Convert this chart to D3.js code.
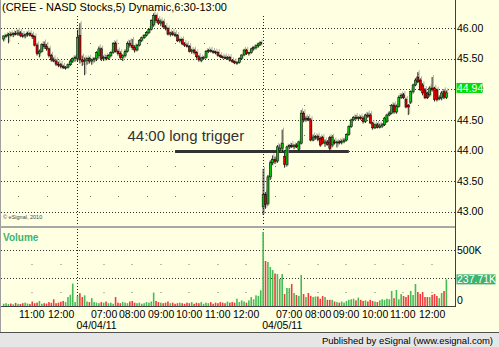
<!DOCTYPE html>
<html>
<head>
<meta charset="utf-8">
<script src="https://cdn.jsdelivr.net/npm/d3@7"></script>
<style>
body { margin: 0; background: #fff; }
svg { display: block; font-family: "Liberation Sans", Arial, sans-serif; }
</style>
</head>
<body>
<svg width="499" height="347"></svg>
<script>
const width = 499;
const height = 347;
const svg = d3.select('svg');

// sessions: 5 minute bars, 6:30-13:00
const dayLabels = ['', '04/04/11', '04/05/11'];
const dayStarts = ['10:25', '06:30', '06:30'];
const dayBarCounts = [31, 78, 78];

const opens = [
  45.82,45.87,45.88,45.90,45.89,45.91,45.90,45.92,45.88,45.87,45.89,45.91,45.88,45.86,45.72,45.58,45.62,45.73,45.70,45.66,45.55,45.48,45.46,45.41,45.40,45.37,45.35,45.36,45.40,45.46,45.50,
  45.50,45.88,45.48,45.45,45.47,45.50,45.46,45.48,45.50,45.55,45.66,45.50,45.52,45.50,45.55,45.60,45.75,45.62,45.58,45.52,45.55,45.62,45.75,45.72,45.68,45.64,45.72,45.80,45.84,45.88,45.93,45.98,46.05,46.20,46.12,46.08,46.10,46.02,45.99,45.90,45.92,45.89,45.88,45.79,45.81,45.74,45.72,45.70,45.62,45.64,45.60,45.53,45.47,45.51,45.52,45.62,45.63,45.62,45.61,45.60,45.55,45.53,45.52,45.51,45.52,45.47,45.45,45.43,45.44,45.50,45.56,45.64,45.58,45.60,45.66,45.68,45.71,45.74,
  43.08,43.28,43.14,43.57,43.80,43.85,43.83,44.00,44.04,43.90,43.77,44.06,44.08,44.06,44.09,44.02,44.12,44.61,44.50,44.52,44.50,44.17,44.22,44.23,44.20,44.21,44.12,44.14,44.21,44.09,44.14,44.13,44.14,44.13,44.15,44.17,44.26,44.39,44.50,44.54,44.53,44.54,44.53,44.47,44.58,44.58,44.45,44.37,44.42,44.38,44.40,44.42,44.47,44.58,44.61,44.74,44.63,44.72,44.87,44.91,44.83,44.74,44.79,44.96,45.07,45.20,45.15,45.07,44.99,44.94,44.91,45.02,45.02,44.99,44.85,44.86,44.96,44.87
];
const highs = [
  45.88,45.90,45.92,45.93,45.93,45.95,45.97,45.95,45.92,45.91,45.94,45.93,45.91,45.88,45.75,45.65,45.75,45.78,45.74,45.68,45.58,45.52,45.49,45.45,45.43,45.40,45.38,45.42,45.48,45.52,45.55,
  45.97,46.08,45.55,45.52,45.52,45.53,45.50,45.52,45.62,45.70,45.68,45.55,45.56,45.57,45.62,45.77,45.78,45.65,45.62,45.57,45.65,45.78,45.80,45.82,45.72,45.74,45.82,45.86,45.90,45.95,46.00,46.14,46.24,46.22,46.16,46.14,46.12,46.05,46.01,45.94,45.95,45.93,45.90,45.83,45.83,45.77,45.75,45.72,45.66,45.66,45.62,45.56,45.53,45.54,45.64,45.66,45.66,45.64,45.63,45.62,45.57,45.55,45.55,45.54,45.54,45.49,45.47,45.46,45.52,45.57,45.66,45.66,45.61,45.68,45.70,45.73,45.76,45.78,
  43.70,43.32,43.60,43.84,43.92,43.90,44.09,44.10,44.34,43.96,44.08,44.10,44.12,44.10,44.12,44.16,44.66,44.64,44.56,44.56,44.53,44.26,44.25,44.26,44.23,44.24,44.18,44.17,44.24,44.24,44.18,44.16,44.17,44.18,44.20,44.28,44.41,44.52,44.56,44.58,44.56,44.57,44.56,44.60,44.62,44.61,44.47,44.44,44.45,44.44,44.45,44.55,44.60,44.64,44.76,44.77,44.75,44.90,44.93,44.94,44.86,44.76,44.98,45.09,45.18,45.28,45.18,45.10,45.02,44.96,45.05,45.20,45.04,45.01,44.90,44.97,45.00,44.98
];
const lows = [
  45.78,45.84,45.75,45.86,45.85,45.88,45.87,45.85,45.84,45.83,45.86,45.86,45.82,45.70,45.55,45.52,45.60,45.66,45.63,45.52,45.45,45.44,45.38,45.36,45.34,45.33,45.32,45.34,45.38,45.43,45.45,
  45.45,45.42,45.38,45.23,45.40,45.42,45.40,45.44,45.46,45.50,45.46,45.46,45.47,45.48,45.52,45.58,45.60,45.55,45.48,45.46,45.52,45.60,45.68,45.64,45.60,45.62,45.70,45.77,45.82,45.86,45.90,45.96,46.02,46.08,46.05,46.03,46.00,45.96,45.88,45.86,45.87,45.85,45.77,45.76,45.72,45.69,45.68,45.60,45.58,45.57,45.50,45.45,45.44,45.48,45.50,45.59,45.60,45.58,45.57,45.53,45.51,45.50,45.49,45.48,45.45,45.43,45.41,45.40,45.42,45.48,45.54,45.56,45.55,45.58,45.63,45.65,45.68,45.71,
  42.95,43.05,43.10,43.52,43.76,43.78,43.80,43.96,43.98,43.72,43.74,44.02,44.04,44.02,44.04,44.00,44.10,44.46,44.47,44.48,44.15,44.15,44.18,44.15,44.06,44.10,44.06,44.08,43.99,44.05,44.10,44.05,44.10,44.10,44.12,44.15,44.24,44.37,44.48,44.50,44.49,44.50,44.44,44.45,44.53,44.43,44.34,44.35,44.36,44.36,44.37,44.40,44.45,44.56,44.59,44.60,44.60,44.70,44.84,44.84,44.69,44.58,44.76,44.93,45.05,45.10,44.97,44.90,44.84,44.84,44.88,44.96,44.80,44.80,44.82,44.82,44.84,44.84
];
const closes = [
  45.87,45.88,45.90,45.89,45.91,45.90,45.92,45.88,45.87,45.89,45.91,45.88,45.86,45.72,45.58,45.62,45.73,45.70,45.66,45.55,45.48,45.46,45.41,45.40,45.37,45.35,45.36,45.40,45.46,45.50,45.52,
  45.85,45.48,45.45,45.47,45.50,45.46,45.48,45.50,45.60,45.66,45.50,45.52,45.50,45.55,45.60,45.75,45.62,45.58,45.52,45.55,45.62,45.75,45.72,45.68,45.64,45.72,45.80,45.84,45.88,45.93,45.98,46.12,46.20,46.12,46.08,46.10,46.02,45.99,45.90,45.92,45.89,45.88,45.79,45.81,45.74,45.72,45.70,45.62,45.64,45.60,45.53,45.48,45.51,45.52,45.62,45.63,45.62,45.61,45.60,45.55,45.53,45.52,45.51,45.52,45.47,45.45,45.43,45.44,45.50,45.56,45.64,45.58,45.60,45.66,45.68,45.71,45.74,45.76,
  43.28,43.12,43.57,43.80,43.85,43.82,44.06,44.04,44.12,43.77,44.06,44.08,44.06,44.09,44.06,44.14,44.61,44.50,44.52,44.50,44.17,44.22,44.23,44.18,44.09,44.12,44.14,44.10,44.03,44.22,44.13,44.14,44.13,44.15,44.17,44.26,44.39,44.50,44.54,44.53,44.54,44.52,44.47,44.58,44.56,44.45,44.37,44.42,44.38,44.40,44.42,44.53,44.58,44.61,44.74,44.63,44.72,44.87,44.90,44.86,44.71,44.71,44.96,45.07,45.15,45.12,44.99,44.94,44.86,44.86,45.02,44.99,44.83,44.83,44.86,44.94,44.87,44.94
];
// volume, thousands of shares
const volumes = [
  20,25,18,22,15,28,20,18,25,30,22,18,40,25,30,45,20,25,22,35,28,60,25,30,38,45,35,80,100,200,35,
  90,115,80,95,40,35,70,35,30,25,35,30,40,25,30,20,80,30,25,35,30,25,40,45,30,25,30,20,25,35,30,40,120,45,35,30,25,30,40,25,30,20,25,30,25,20,30,25,35,20,30,25,35,20,30,25,35,20,30,25,35,30,25,40,30,35,30,65,35,50,40,30,50,80,60,95,90,140,
  660,402,393,348,321,290,285,241,285,107,161,160,196,116,98,90,277,107,80,116,90,80,85,85,65,89,80,55,55,55,40,35,30,40,30,45,55,60,65,50,75,55,45,50,40,55,45,40,35,50,60,55,65,60,134,70,143,60,107,89,80,98,134,98,196,125,107,125,80,80,80,100,107,89,70,116,134,237.71
];

const priceTicks = [43, 43.5, 44, 44.5, 45, 45.5, 46];
const priceDots = [43.25, 43.75, 44.25, 44.75, 45.25, 45.75];
const volTicks = [0, 500];
const volGrid = [250, 500];
const volDots = [125, 375];
const lastPriceLabel = '44.94';
const lastVolumeLabel = '237.71K';
const triggerPrice = 44.00;
const triggerText = '44:00 long trigger';
const triggerFrom = 72;   // bar index
const triggerTo = 145;
const title = '(CREE - NASD Stocks,5) Dynamic,6:30-13:00';

const bars = [];
dayBarCounts.forEach((n, d) => {
  const [h, m] = dayStarts[d].split(':').map(Number);
  for (let i = 0; i < n; i++) {
    bars.push({ day: d, first: i === 0, mins: h * 60 + m + i * 5 });
  }
});
bars.forEach((b, i) => {
  b.o = opens[i]; b.h = highs[i]; b.l = lows[i]; b.c = closes[i]; b.v = volumes[i];
  b.up = b.c >= b.o;
});

const x = d3.scaleLinear().domain([0, bars.length - 1]).range([3.7, 446.4]);
const step = x(1) - x(0);
const y = d3.scaleLinear().domain([43, 46]).range([211.8, 28]);
const yv = d3.scaleLinear().domain([0, 500]).range([306, 250]);

const plotRight = 455;
const bg = '#ffffe1';

svg.append('rect').attr('width', width).attr('height', height).attr('fill', bg);

const hourIdx = bars.map((b, i) => i).filter(i => bars[i].mins % 60 === 0);
const dayIdx = bars.map((b, i) => i).filter(i => bars[i].first && bars[i].day > 0);
const tickX = i => Math.round(x(i) - step / 2) - 0.5;

// grid, price panel
const grid = svg.append('g');
grid.selectAll('.hg').data(priceTicks).join('line')
  .attr('x1', 1).attr('x2', plotRight)
  .attr('y1', d => Math.round(y(d)) + 0.5).attr('y2', d => Math.round(y(d)) + 0.5)
  .attr('stroke', '#333').attr('stroke-dasharray', '1,2');
priceDots.forEach(p => {
  grid.selectAll(null).data(hourIdx).join('rect')
    .attr('x', i => tickX(i) - 0.5).attr('y', Math.round(y(p)))
    .attr('width', 1).attr('height', 1).attr('fill', '#777');
});
// grid, volume panel
grid.selectAll('.vg').data(volGrid).join('line')
  .attr('x1', 1).attr('x2', plotRight)
  .attr('y1', d => Math.round(yv(d)) + 0.5).attr('y2', d => Math.round(yv(d)) + 0.5)
  .attr('stroke', '#333').attr('stroke-dasharray', '1,2');
volDots.forEach(v => {
  grid.selectAll(null).data(hourIdx).join('rect')
    .attr('x', i => tickX(i) + 13).attr('y', Math.round(yv(v)))
    .attr('width', 1).attr('height', 1).attr('fill', '#777');
});
dayIdx.forEach(i => {
  const dx = Math.round(x(i)) + 0.5;
  grid.append('line').attr('x1', dx).attr('x2', dx).attr('y1', 16).attr('y2', 226)
    .attr('stroke', '#222').attr('stroke-dasharray', '1,2');
  grid.append('line').attr('x1', dx).attr('x2', dx).attr('y1', 229).attr('y2', 306)
    .attr('stroke', '#222').attr('stroke-dasharray', '1,2');
});

// trigger annotation
svg.append('line')
  .attr('x1', x(triggerFrom)).attr('x2', x(triggerTo))
  .attr('y1', y(triggerPrice) + 1).attr('y2', y(triggerPrice) + 1)
  .attr('stroke', '#333').attr('stroke-width', 3);
svg.append('text').text(triggerText)
  .attr('x', x(52)).attr('y', 141)
  .attr('font-size', 15).attr('fill', '#333');

// candles
const cg = svg.append('g');
cg.selectAll('.sh').data(bars).join('line')
  .attr('x1', (d, i) => x(i) + 1.3).attr('x2', (d, i) => x(i) + 1.3)
  .attr('y1', d => y(d.h) - 2).attr('y2', d => y(d.l) - 1)
  .attr('stroke', '#b0b0a4').attr('stroke-width', 1);
cg.selectAll('.wk').data(bars).join('line')
  .attr('x1', (d, i) => x(i)).attr('x2', (d, i) => x(i))
  .attr('y1', d => y(d.h)).attr('y2', d => y(d.l))
  .attr('stroke', '#111').attr('stroke-width', 0.9);
cg.selectAll('.bd').data(bars).join('rect')
  .attr('x', (d, i) => x(i) - 1).attr('width', 2)
  .attr('y', d => y(Math.max(d.o, d.c)))
  .attr('height', d => Math.max(1, Math.abs(y(d.o) - y(d.c))))
  .attr('fill', d => d.up ? '#10c010' : '#e00000')
  .attr('stroke', '#000').attr('stroke-width', 0.5);

// volume bars
svg.append('g').selectAll('rect').data(bars).join('rect')
  .attr('x', (d, i) => x(i) - 0.8).attr('width', 1.6)
  .attr('y', d => yv(d.v)).attr('height', d => yv(0) - yv(d.v))
  .attr('fill', d => d.up ? '#44bb55' : '#ee3c3c');

// frame
svg.append('line').attr('x1', 0.5).attr('x2', 0.5).attr('y1', 0).attr('y2', 332)
  .attr('stroke', '#a0a0a0');
svg.append('line').attr('x1', 0).attr('x2', plotRight).attr('y1', 227).attr('y2', 227)
  .attr('stroke', '#a8a8a8').attr('stroke-width', 2);
svg.append('line').attr('x1', plotRight + 0.5).attr('x2', plotRight + 0.5).attr('y1', 0).attr('y2', 307)
  .attr('stroke', '#404040');
svg.append('line').attr('x1', 1).attr('x2', plotRight + 1).attr('y1', 306.5).attr('y2', 306.5)
  .attr('stroke', '#404040');

// title and labels
svg.append('text').text(title).attr('x', 2).attr('y', 11)
  .attr('font-size', 11).attr('fill', '#000');
svg.append('text').text('\u00a9 eSignal, 2010').attr('x', 3).attr('y', 219)
  .attr('font-size', 5.5).attr('fill', '#444');
svg.append('text').text('Volume').attr('x', 3).attr('y', 241)
  .attr('font-size', 10).attr('font-weight', 'bold').attr('fill', '#3cb371');

// right axes
const ra = svg.append('g').attr('font-size', 10.5).attr('fill', '#000');
ra.selectAll('.pt').data(priceTicks).join('text')
  .text(d => d3.format('.2f')(d))
  .attr('x', plotRight + 2).attr('y', d => y(d)).attr('dy', '0.35em');
ra.selectAll('.vt').data(volTicks).join('text')
  .text(d => d === 0 ? '0' : d + 'K')
  .attr('x', plotRight + 2).attr('y', d => d === 0 ? yv(d) - 6 : yv(d)).attr('dy', '0.35em');

const py = y(closes[closes.length - 1]) - 5;
svg.append('rect').attr('x', plotRight + 1.5).attr('y', py - 5).attr('width', 26).attr('height', 10)
  .attr('fill', '#00e000');
svg.append('text').text(lastPriceLabel).attr('x', plotRight + 2).attr('y', py).attr('dy', '0.35em')
  .attr('font-size', 10.5).attr('fill', '#fff');
const vy = yv(volumes[volumes.length - 1]);
svg.append('rect').attr('x', plotRight + 1.5).attr('y', vy - 5).attr('width', 39).attr('height', 10)
  .attr('fill', '#3cb371');
svg.append('text').text(lastVolumeLabel).attr('x', plotRight + 2).attr('y', vy).attr('dy', '0.35em')
  .attr('font-size', 10.5).attr('fill', '#fff');

// x axis labels
const fmt = m => String(Math.floor(m / 60)).padStart(2, '0') + ':' + String(m % 60).padStart(2, '0');
svg.append('g').attr('font-size', 10.5).attr('fill', '#000')
  .selectAll('text').data(hourIdx).join('text')
  .text(i => fmt(bars[i].mins))
  .attr('x', i => tickX(i) + 0.5).attr('y', 318);
svg.append('g').attr('font-size', 10.5).attr('fill', '#000')
  .selectAll('text').data(dayIdx).join('text')
  .text(i => dayLabels[bars[i].day])
  .attr('x', i => x(i) - 1).attr('y', 329);

// footer
svg.append('rect').attr('x', 0).attr('y', 333).attr('width', width).attr('height', 14).attr('fill', '#e6e6e6');
svg.append('line').attr('x1', 0).attr('x2', width).attr('y1', 332.5).attr('y2', 332.5).attr('stroke', '#505050');
svg.append('text').text('Published by eSignal (www.esignal.com)')
  .attr('x', 493).attr('y', 344).attr('text-anchor', 'end')
  .attr('font-size', 9.5).attr('fill', '#000');
</script>
</body>
</html>
